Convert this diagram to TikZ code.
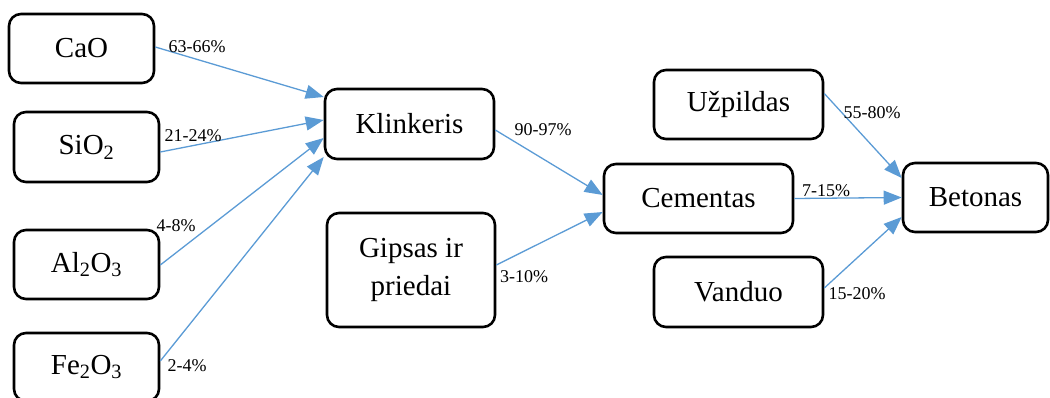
\documentclass[tikz,border=0pt]{standalone}
\usepackage{fontspec}
\setmainfont{Liberation Serif}
\usetikzlibrary{arrows.meta,calc}
\definecolor{arrowblue}{RGB}{91,155,213}
\tikzset{
  box/.style={draw=black, line width=2.6pt, rounded corners=12pt, inner sep=0pt,
    align=center, font=\fontsize{29}{38}\selectfont},
  flow/.style={draw=arrowblue, line width=1.3pt, -{Triangle[length=18pt,width=14pt]}},
  pct/.style={inner sep=0pt, font=\fontsize{18}{20}\selectfont}
}
\begin{document}
\begin{tikzpicture}[x=1pt,y=-1pt]
\useasboundingbox (0,0) rectangle (1050,398);
\node[box, minimum width=145pt, minimum height=69pt] (cao) at (81.5,48.5) {CaO};
\node[box, minimum width=145pt, minimum height=70pt] (sio) at (86.5,147) {SiO\textsubscript{2}};
\node[box, minimum width=145pt, minimum height=69pt] (alo) at (86.5,264.5) {Al\textsubscript{2}O\textsubscript{3}};
\node[box, minimum width=145pt, minimum height=68pt] (feo) at (86.5,367) {Fe\textsubscript{2}O\textsubscript{3}};
\node[box, minimum width=169pt, minimum height=70pt] (kl) at (409.5,124) {Klinkeris};
\node[box, minimum width=168pt, minimum height=114pt] (gi) at (411,270) {Gipsas ir\\priedai};
\node[box, minimum width=189pt, minimum height=69pt] (ce) at (698.5,198.5) {Cementas};
\node[box, minimum width=169pt, minimum height=69pt] (uz) at (738.5,104.5) {Užpildas};
\node[box, minimum width=169pt, minimum height=70pt] (va) at (738.5,292) {Vanduo};
\node[box, minimum width=145pt, minimum height=69pt] (be) at (975.5,197.5) {Betonas};

\draw[flow] ($(cao.east)+(0,-1.5)$) -- ($(kl.west)+(0,-27)$);
\draw[flow] ($(sio.east)+(0,5)$) -- ($(kl.west)+(0,-4)$);
\draw[flow] ($(alo.east)+(0,0.5)$) -- ($(kl.west)+(0,14)$);
\draw[flow] ($(feo.east)+(0,-6)$) -- ($(kl.west)+(0,33)$);
\draw[flow] ($(kl.east)+(0,6)$) -- ($(ce.west)+(0,-3.5)$);
\draw[flow] ($(gi.east)+(0,-5)$) -- ($(ce.west)+(0,13.5)$);
\draw[flow] ($(uz.east)+(0,-11)$) -- ($(be.west)+(0,-19.5)$);
\draw[flow] (ce.east) -- (be.west);
\draw[flow] ($(va.east)+(0,-4)$) -- ($(be.west)+(0,19.5)$);

\node[pct] (l1) at (197,47) {63-66\%};
\node[pct] (l2) at (193,136) {21-24\%};
\node[pct] (l3) at (176,226) {4-8\%};
\node[pct] (l4) at (187,366) {2-4\%};
\node[pct] (l5) at (543,130) {90-97\%};
\node[pct] (l6) at (524,277) {3-10\%};
\node[pct] (l7) at (872,113) {55-80\%};
\node[pct] (l8) at (826,191) {7-15\%};
\node[pct] (l9) at (857,294) {15-20\%};
\end{tikzpicture}
\end{document}
